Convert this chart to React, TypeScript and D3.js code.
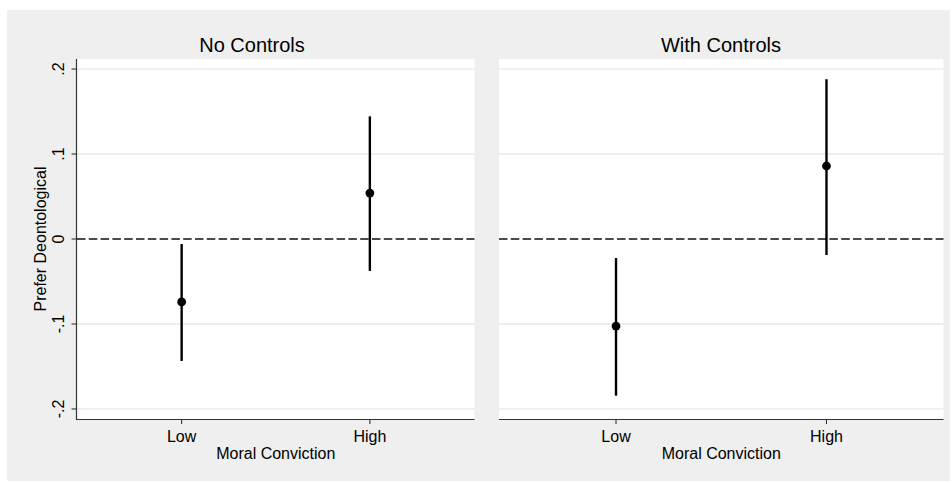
import React from 'react';
import * as d3 from 'd3';

// Data
const categories = ['Low', 'High'];
const panelTitles = ['No Controls', 'With Controls'];

const noControlsEst = [-0.074, 0.054];
const noControlsLo = [-0.1435, -0.0376];
const noControlsHi = [-0.0059, 0.1443];

const withControlsEst = [-0.1024, 0.0859];
const withControlsLo = [-0.1843, -0.0188];
const withControlsHi = [-0.0224, 0.188];

const yTicks = [-0.2, -0.1, 0, 0.1, 0.2];
const yTickLabels = ['-.2', '-.1', '0', '.1', '.2'];

const xTitle = 'Moral Conviction';
const yTitle = 'Prefer Deontological';

const FONT = '"Liberation Sans", Arial, Helvetica, sans-serif';
const BG = '#efefef';

const W = 952;
const H = 483;
const plotTop = 59;
const plotBottom = 419;

const panels = [
  { title: panelTitles[0], est: noControlsEst, lo: noControlsLo, hi: noControlsHi, x0: 77, x1: 474.5, outer: [7, 497], showY: true },
  { title: panelTitles[1], est: withControlsEst, lo: withControlsLo, hi: withControlsHi, x0: 499, x1: 943.5, outer: [497, 945], showY: false },
];

const y = d3.scaleLinear().domain([-0.2118, 0.2118]).range([plotBottom, plotTop]);

const Panel = ({ p }) => {
  const x = d3.scalePoint().domain(categories).range([p.x0, p.x1]).padding(0.556);
  const cx = (p.x0 + p.x1) / 2;
  return (
    <g>
      <rect x={p.x0} y={plotTop} width={p.x1 - p.x0} height={plotBottom - plotTop} fill="#fff" />
      {/* gridlines */}
      {yTicks.filter(t => t !== 0).map(t => (
        <line key={t} x1={p.x0} x2={p.x1} y1={y(t)} y2={y(t)} stroke="#e8e8e8" strokeWidth={1.3} />
      ))}
      {/* zero reference line */}
      <line x1={p.x0} x2={p.x1} y1={y(0)} y2={y(0)} stroke="#111" strokeWidth={1.5} strokeDasharray="8.5,3.3" />
      {/* x axis */}
      <line x1={p.x0} x2={p.x1} y1={plotBottom + 0.5} y2={plotBottom + 0.5} stroke="#333" strokeWidth={1.2} />
      {categories.map(c => (
        <g key={c}>
          <line x1={x(c)} x2={x(c)} y1={plotBottom} y2={plotBottom + 5} stroke="#333" strokeWidth={1.1} />
          <text x={x(c)} y={442} textAnchor="middle" fontSize={16} fontFamily={FONT} fill="#000">{c}</text>
        </g>
      ))}
      <text x={cx} y={459} textAnchor="middle" fontSize={16} fontFamily={FONT} fill="#000">{xTitle}</text>
      {/* y axis */}
      {p.showY && (
        <g>
          <line x1={p.x0 - 0.5} x2={p.x0 - 0.5} y1={plotTop} y2={plotBottom + 1} stroke="#333" strokeWidth={1.2} />
          {yTicks.map((t, i) => (
            <g key={t}>
              <line x1={p.x0 - 5.5} x2={p.x0} y1={y(t)} y2={y(t)} stroke="#333" strokeWidth={1.1} />
              <text transform={`translate(63.5,${y(t)}) rotate(-90)`} textAnchor="middle" fontSize={16} fontFamily={FONT} fill="#000">{yTickLabels[i]}</text>
            </g>
          ))}
          <text transform={`translate(46,${(plotTop + plotBottom) / 2}) rotate(-90)`} textAnchor="middle" fontSize={16} fontFamily={FONT} fill="#000">{yTitle}</text>
        </g>
      )}
      {/* estimates with CIs */}
      {categories.map((c, i) => (
        <g key={c}>
          <line x1={x(c)} x2={x(c)} y1={y(p.hi[i])} y2={y(p.lo[i])} stroke="#000" strokeWidth={2.4} />
          <circle cx={x(c)} cy={y(p.est[i])} r={4.4} fill="#000" />
        </g>
      ))}
      <text x={(p.outer[0] + p.outer[1]) / 2} y={52} textAnchor="middle" fontSize={20} fontFamily={FONT} fill="#000">{p.title}</text>
    </g>
  );
};

export default function App() {
  return (
    <svg width={W} height={H} style={{ position: 'absolute', left: 0, top: 0, background: '#fff' }}>
      <rect x={7} y={10} width={943} height={471} fill={BG} />
      {panels.map(p => <Panel key={p.title} p={p} />)}
    </svg>
  );
}
